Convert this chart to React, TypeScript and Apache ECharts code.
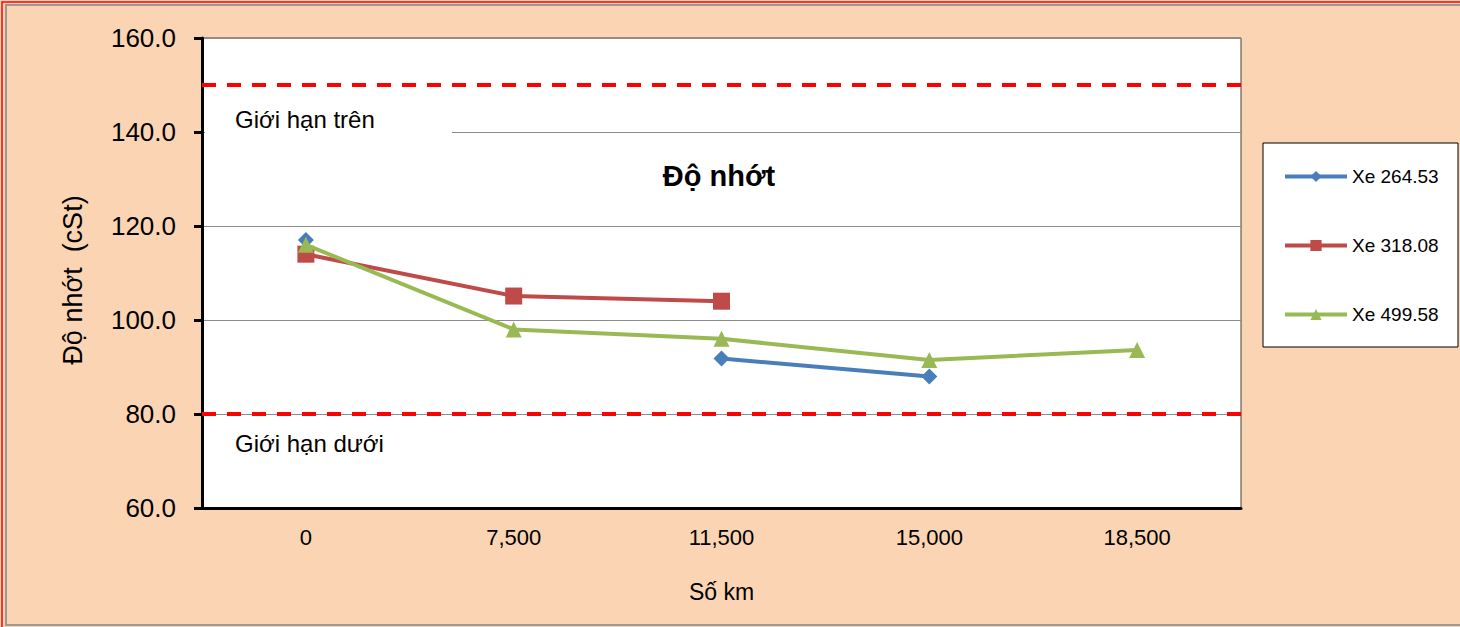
import React, { useEffect, useRef } from "react";
import * as echarts from "echarts";

const categories = ["0", "7,500", "11,500", "15,000", "18,500"];
const xe26453 = [117.0, null, 91.8, 88.0, null];
const xe31808 = [114.0, 105.1, 104.0, null, null];
const xe49958 = [116.0, 98.0, 96.0, 91.5, 93.6];
const upperLimit = 150;
const lowerLimit = 80;

const FONT = "Liberation Sans, Arial, sans-serif";

export default function App() {
  const ref = useRef<HTMLDivElement>(null);
  useEffect(() => {
    document.body.style.margin = "0";
    const chart = echarts.init(ref.current!, null, { renderer: "svg" });
    chart.setOption({
      animation: false,
      backgroundColor: "#FBD4B4",
      textStyle: { fontFamily: FONT },
      title: {
        text: "Độ nhớt",
        left: 714,
        top: 156,
        textAlign: "center",
        textStyle: { fontSize: 29, fontWeight: "bold", color: "#000", fontFamily: FONT },
      },
      grid: {
        left: 202,
        right: 219,
        top: 38,
        bottom: 119,
        show: true,
        backgroundColor: "#fff",
        borderColor: "#404040",
        borderWidth: 1,
      },
      legend: {
        orient: "vertical",
        left: 1278,
        top: 162,
        itemWidth: 62,
        itemHeight: 14,
        itemGap: 50,
        lineStyle: { width: 4 },
        textStyle: { fontSize: 19, color: "#000", fontFamily: FONT },
        data: ["Xe 264.53", "Xe 318.08", "Xe 499.58"],
      },
      xAxis: {
        type: "category",
        data: categories,
        boundaryGap: true,
        axisLine: { lineStyle: { color: "#000", width: 3 } },
        axisTick: { show: false },
        axisLabel: { fontSize: 22, color: "#000", margin: 18, fontFamily: FONT },
        name: "Số km",
        nameLocation: "middle",
        nameGap: 72,
        nameTextStyle: { fontSize: 23, color: "#000", fontFamily: FONT },
        splitLine: { show: false },
      },
      yAxis: {
        type: "value",
        min: 60,
        max: 160,
        interval: 20,
        axisLine: { show: true, lineStyle: { color: "#000", width: 3 } },
        axisTick: { show: true, length: 8, lineStyle: { color: "#000", width: 3 } },
        axisLabel: {
          fontSize: 26,
          color: "#000",
          margin: 26,
          fontFamily: FONT,
          formatter: (v: number) => v.toFixed(1),
        },
        splitLine: { lineStyle: { color: "#8c8c8c", width: 1 } },
        name: "Độ nhớt  (cSt)",
        nameLocation: "middle",
        nameGap: 116,
        nameRotate: 90,
        nameTextStyle: { fontSize: 27, color: "#000", fontFamily: FONT, padding: [0, 14, 0, 0] },
      },
      series: [
        {
          name: "Xe 264.53",
          type: "line",
          data: xe26453,
          connectNulls: false,
          symbol: "diamond",
          symbolSize: 16,
          itemStyle: { color: "#4A7EBB" },
          lineStyle: { color: "#4A7EBB", width: 4 },
          z: 3,
        },
        {
          name: "Xe 318.08",
          type: "line",
          data: xe31808,
          symbol: "rect",
          symbolSize: 17,
          itemStyle: { color: "#BE4B48" },
          lineStyle: { color: "#BE4B48", width: 4 },
          z: 2,
          markLine: {
            silent: true,
            symbol: "none",
            label: { show: false },
            lineStyle: { color: "#FF0000", width: 4, type: [14, 11] },
            data: [{ yAxis: upperLimit }, { yAxis: lowerLimit }],
          },
        },
        {
          name: "Xe 499.58",
          type: "line",
          data: xe49958,
          symbol: "triangle",
          symbolSize: 16,
          itemStyle: { color: "#98B954" },
          lineStyle: { color: "#98B954", width: 4 },
          z: 4,
        },
      ],
      graphic: [
        {
          type: "rect",
          shape: { x: 2, y: 2, width: 1470, height: 640 },
          style: { fill: "none", stroke: "#FF0000", lineWidth: 1.5 },
          silent: true,
        },
        {
          type: "rect",
          shape: { x: 6, y: 5, width: 1466, height: 620 },
          style: { fill: "none", stroke: "#999999", lineWidth: 2 },
          silent: true,
        },
        {
          type: "rect",
          shape: { x: 1263, y: 143, width: 195, height: 204 },
          style: { fill: "#fff", stroke: "#000", lineWidth: 1 },
          z: -1,
          silent: true,
        },
        {
          type: "rect",
          shape: { x: 205, y: 128, width: 247, height: 8 },
          style: { fill: "#fff" },
          z: 10,
          silent: true,
        },
        {
          type: "text",
          x: 235,
          y: 119,
          z: 11,
          style: {
            text: "Giới hạn trên",
            fontSize: 24,
            fontFamily: FONT,
            fill: "#000",
            verticalAlign: "middle",
          },
        },
        {
          type: "text",
          x: 235,
          y: 443,
          z: 11,
          style: {
            text: "Giới hạn dưới",
            fontSize: 24,
            fontFamily: FONT,
            fill: "#000",
            verticalAlign: "middle",
          },
        },
      ],
    });
    return () => chart.dispose();
  }, []);
  return <div ref={ref} style={{ width: 1460, height: 627 }} />;
}
